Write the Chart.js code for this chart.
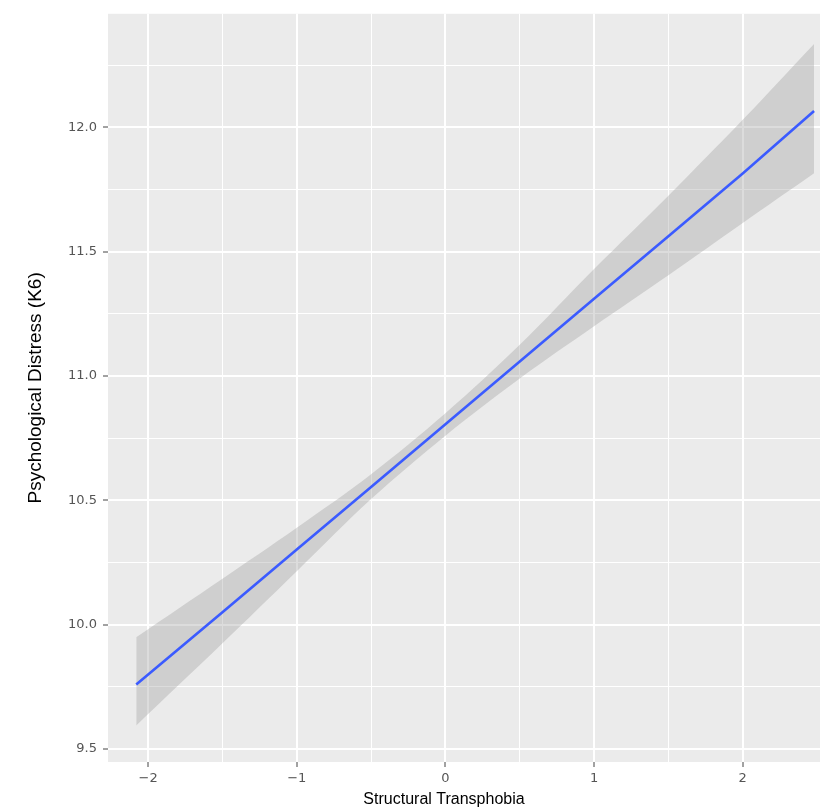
<!DOCTYPE html>
<html>
<head>
<meta charset="utf-8">
<script src="https://cdn.jsdelivr.net/npm/chart.js@4"></script>
<style>
  html, body { margin: 0; padding: 0; background: #ffffff; }
  #wrap { width: 826px; height: 812px; }
</style>
</head>
<body>
<div id="wrap"><canvas id="c" width="826" height="812"></canvas></div>
<script>
// ---- data ----
const xValues    = [-2.08, -1.5, -1.0, -0.5, 0.0, 0.5, 1.0, 1.5, 2.0, 2.48];
const fitValues  = [9.760, 10.050, 10.302, 10.554, 10.806, 11.058, 11.310, 11.562, 11.814, 12.065];
const upperBand  = [9.950, 10.185, 10.390, 10.605, 10.850, 11.125, 11.430, 11.725, 12.030, 12.335];
const lowerBand  = [9.595, 9.925, 10.215, 10.505, 10.760, 10.990, 11.200, 11.405, 11.615, 11.815];

const xMajorTicks = [-2, -1, 0, 1, 2];
const xTickLabels = ['\u22122', '\u22121', '0', '1', '2'];
const xMinorTicks = [-1.5, -0.5, 0.5, 1.5];
const yMajorTicks = [9.5, 10.0, 10.5, 11.0, 11.5, 12.0];
const yTickLabels = ['9.5', '10.0', '10.5', '11.0', '11.5', '12.0'];
const yMinorTicks = [9.75, 10.25, 10.75, 11.25, 11.75, 12.25];

const xTitle = 'Structural Transphobia';
const yTitle = 'Psychological Distress (K6)';

const toPts = ys => xValues.map((x, i) => ({ x: x, y: ys[i] }));

const panelBg = {
  id: 'panelBg',
  beforeDraw(chart) {
    const { ctx, chartArea: a } = chart;
    ctx.save();
    ctx.fillStyle = '#EBEBEB';
    ctx.fillRect(a.left, a.top, a.right - a.left, a.bottom - a.top);
    ctx.restore();
  }
};

// x-axis title, centred where the reference centres it
const xTitlePlugin = {
  id: 'xTitlePlugin',
  afterDraw(chart) {
    const ctx = chart.ctx;
    ctx.save();
    ctx.font = '16px "Liberation Sans", Arial, sans-serif';
    ctx.fillStyle = '#000000';
    ctx.textAlign = 'center';
    ctx.textBaseline = 'middle';
    ctx.fillText(xTitle, 444, 800);
    ctx.restore();
  }
};

function buildTicks(major, minor) {
  return function (scale) {
    const all = major.concat(minor).sort((a, b) => a - b);
    scale.ticks = all.map(v => ({ value: v }));
  };
}
function isMajor(list, v) {
  return list.some(m => Math.abs(m - v) < 1e-9);
}

const tickFont = { family: '"DejaVu Sans", Verdana, sans-serif', size: 13 };

new Chart(document.getElementById('c'), {
  type: 'scatter',
  data: {
    datasets: [
      {
        label: 'upper',
        data: toPts(upperBand),
        showLine: true,
        tension: 0.35,
        borderWidth: 0,
        borderColor: 'rgba(0,0,0,0)',
        pointRadius: 0,
        fill: false,
        order: 3
      },
      {
        label: 'lower',
        data: toPts(lowerBand),
        showLine: true,
        tension: 0.35,
        borderWidth: 0,
        borderColor: 'rgba(0,0,0,0)',
        pointRadius: 0,
        backgroundColor: 'rgba(153,153,153,0.34)',
        fill: '-1',
        order: 2
      },
      {
        label: 'fit',
        data: toPts(fitValues),
        showLine: true,
        borderColor: '#3B5BFF',
        borderWidth: 2.6,
        pointRadius: 0,
        fill: false,
        order: 1
      }
    ]
  },
  options: {
    responsive: false,
    animation: false,
    devicePixelRatio: 1,
    layout: { padding: { left: 0, right: 6, top: 4, bottom: 0 } },
    plugins: {
      legend: { display: false },
      tooltip: { enabled: false }
    },
    scales: {
      x: {
        type: 'linear',
        min: -2.27,
        max: 2.52,
        afterBuildTicks: buildTicks(xMajorTicks, xMinorTicks),
        afterFit(scale) { scale.height = 50; },
        border: { display: false },
        grid: {
          color: '#FFFFFF',
          lineWidth: ctx => isMajor(xMajorTicks, ctx.tick.value) ? 2 : 1,
          tickColor: ctx => isMajor(xMajorTicks, ctx.tick.value) ? '#444444' : 'rgba(0,0,0,0)',
          tickWidth: 1,
          tickLength: 5,
          drawTicks: true
        },
        ticks: {
          autoSkip: false,
          maxRotation: 0,
          padding: 4,
          color: '#555555',
          font: tickFont,
          callback: v => {
            const i = xMajorTicks.findIndex(m => Math.abs(m - v) < 1e-9);
            return i >= 0 ? xTickLabels[i] : '';
          }
        },
        title: { display: false }
      },
      y: {
        type: 'linear',
        min: 9.448,
        max: 12.456,
        afterBuildTicks: buildTicks(yMajorTicks, yMinorTicks),
        afterFit(scale) { scale.width = 108; },
        border: { display: false },
        grid: {
          color: '#FFFFFF',
          lineWidth: ctx => isMajor(yMajorTicks, ctx.tick.value) ? 2 : 1,
          tickColor: ctx => isMajor(yMajorTicks, ctx.tick.value) ? '#444444' : 'rgba(0,0,0,0)',
          tickWidth: 1,
          tickLength: 5,
          drawTicks: true
        },
        ticks: {
          autoSkip: false,
          padding: 6,
          color: '#555555',
          font: tickFont,
          callback: v => {
            const i = yMajorTicks.findIndex(m => Math.abs(m - v) < 1e-9);
            return i >= 0 ? yTickLabels[i] : '';
          }
        },
        title: {
          display: true,
          text: yTitle,
          color: '#000000',
          font: { family: '"Liberation Sans", Arial, sans-serif', size: 19 },
          padding: { top: 24, bottom: 0 }
        }
      }
    }
  },
  plugins: [panelBg, xTitlePlugin]
});
</script>
</body>
</html>
